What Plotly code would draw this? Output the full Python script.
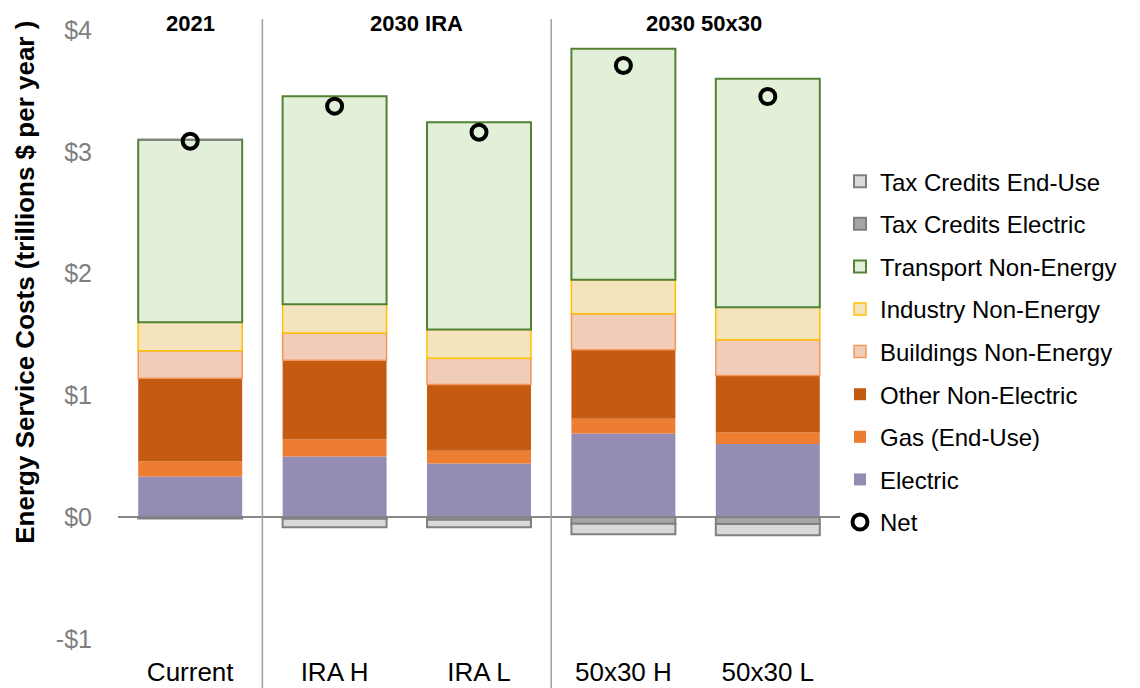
import plotly.graph_objects as go

# Scenarios and their group headers
categories = ["Current", "IRA H", "IRA L", "50x30 H", "50x30 L"]
group_labels = ["2021", "2030 IRA", "2030 50x30"]
group_centers = [0.0, 1.57, 3.555]

# Energy service cost components (trillions $ per year)
electric = [0.334, 0.499, 0.441, 0.688, 0.600]
gas_end_use = [0.123, 0.139, 0.104, 0.120, 0.096]
other_non_electric = [0.683, 0.650, 0.545, 0.567, 0.468]
buildings_non_energy = [0.227, 0.224, 0.216, 0.296, 0.293]
industry_non_energy = [0.233, 0.236, 0.236, 0.279, 0.266]
transport_non_energy = [1.498, 1.709, 1.701, 1.896, 1.877]
tax_credits_electric = [-0.010, -0.012, -0.020, -0.054, -0.055]
tax_credits_end_use = [0.0, -0.070, -0.062, -0.086, -0.093]
net = [3.087, 3.375, 3.161, 3.709, 3.454]

y_tick_vals = [-1, 0, 1, 2, 3, 4]
y_tick_text = ["-$1", "$0", "$1", "$2", "$3", "$4"]

FONT = "Liberation Sans, Arial, sans-serif"

# name, values, fill, outline colour, outline width, legend rank
series = [
    ("Electric", electric, "#948CB3", "#948CB3", 0, 8),
    ("Gas (End-Use)", gas_end_use, "#ED7D31", "#ED7D31", 0, 7),
    ("Other Non-Electric", other_non_electric, "#C55A11", "#C55A11", 0, 6),
    ("Buildings Non-Energy", buildings_non_energy, "#F1CDB9", "#F2965C", 1.5, 5),
    ("Industry Non-Energy", industry_non_energy, "#F3E4BD", "#FFC000", 1.5, 4),
    ("Transport Non-Energy", transport_non_energy, "#E2EFD9", "#548235", 2, 3),
    ("Tax Credits Electric", tax_credits_electric, "#A6A6A6", "#808080", 2, 2),
    ("Tax Credits End-Use", tax_credits_end_use, "#D9D9D9", "#808080", 2, 1),
]

fig = go.Figure()
for name, vals, fill, outline, lw, rank in series:
    fig.add_trace(go.Bar(
        x=categories, y=vals, name=name,
        marker=dict(color=fill, line=dict(color=outline, width=lw)),
        legendrank=rank, legendgroup=name,
    ))

fig.add_trace(go.Scatter(
    x=categories, y=net, name="Net", mode="markers",
    marker=dict(symbol="circle-open", size=15, color="black",
                line=dict(width=4, color="black")),
    legendrank=9, legendgroup="Net",
))

# Vertical separators between scenario groups
for xpos in [0.5, 2.5]:
    fig.add_shape(type="line", xref="x", yref="paper",
                  x0=xpos, x1=xpos, y0=-0.09, y1=1.018,
                  line=dict(color="#A0A0A0", width=1.5), layer="above")

# Group headers
for label, cx in zip(group_labels, group_centers):
    fig.add_annotation(x=cx, xref="x", y=1.01, yref="paper",
                       text=f"<b>{label}</b>", showarrow=False,
                       font=dict(family=FONT, size=22, color="black"),
                       xanchor="center", yanchor="middle")

# Y-axis title
fig.add_annotation(x=-0.1288, xref="paper", y=0.585, yref="paper",
                   text="<b>Energy Service Costs (trillions $ per year )</b>",
                   textangle=-90, showarrow=False,
                   xanchor="center", yanchor="middle",
                   font=dict(family=FONT, size=26, color="black"))

fig.update_layout(
    width=1140, height=688,
    margin=dict(l=118, r=300, t=30, b=49),
    barmode="relative", bargap=0.28,
    plot_bgcolor="white", paper_bgcolor="white",
    font=dict(family=FONT, color="black"),
    showlegend=True,
    legend=dict(x=1.0, xanchor="left", y=0.788, yanchor="top",
                font=dict(family=FONT, size=24, color="black"),
                tracegroupgap=8.4, traceorder="grouped",
                itemwidth=30, bgcolor="rgba(0,0,0,0)"),
)
fig.update_xaxes(showgrid=False, showline=False, ticks="", automargin=False,
                 tickfont=dict(family=FONT, size=26, color="black"),
                 ticklabelstandoff=15)
fig.update_yaxes(range=[-1, 4], tickvals=y_tick_vals, ticktext=y_tick_text,
                 showgrid=False, showline=False, ticks="", automargin=False,
                 zeroline=True, zerolinecolor="#898989", zerolinewidth=2,
                 tickfont=dict(family=FONT, size=25, color="#7F7F7F"),
                 ticklabelstandoff=25)

fig.write_html("out.html")
